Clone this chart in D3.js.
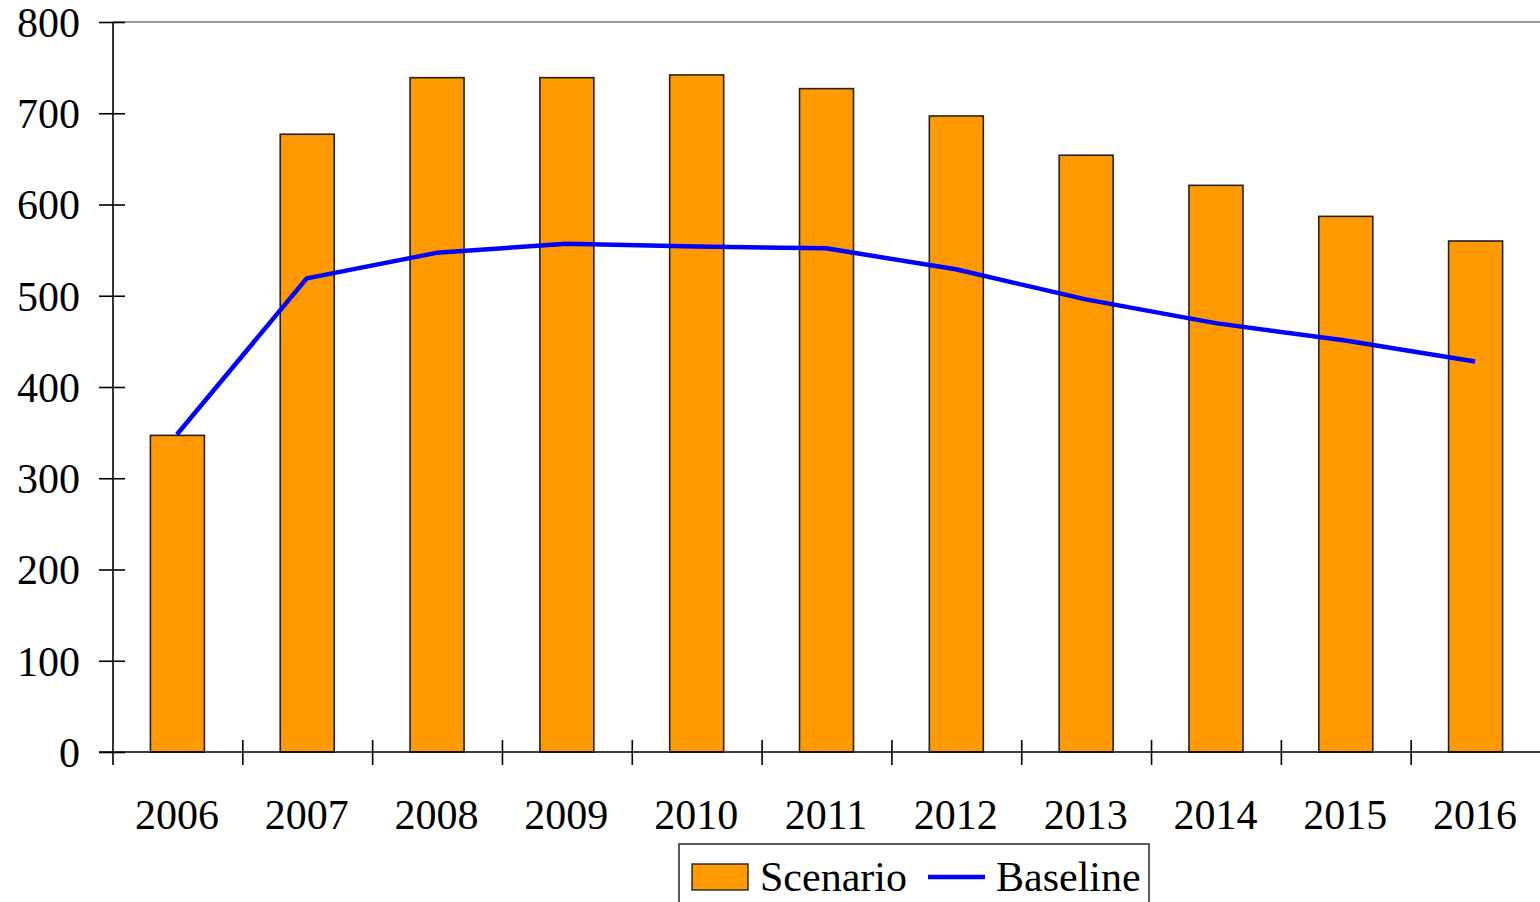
<!DOCTYPE html>
<html>
<head>
<meta charset="utf-8">
<script src="https://cdn.jsdelivr.net/npm/d3@7"></script>
<style>
  html, body { margin: 0; padding: 0; background: #fff; }
  svg { display: block; }
  text { font-family: "Liberation Serif", "Times New Roman", serif; fill: #000; }
</style>
</head>
<body>
<svg id="chart" width="1540" height="902"></svg>
<script>
// Annual values, 2006–2016
const years = ["2006","2007","2008","2009","2010","2011","2012","2013","2014","2015","2016"];
const scenario = [347, 677, 739, 739, 742, 727, 697, 654, 621, 587, 560];
const baseline = [348, 519, 547, 557, 554, 552, 529, 496, 470, 451, 428];
const yTicks = [0, 100, 200, 300, 400, 500, 600, 700, 800];
const seriesNames = ["Scenario", "Baseline"];

const svg = d3.select("#chart");
const plotLeft = 113, plotRight = 1541, plotTop = 22, plotBottom = 752;

const x = d3.scaleBand().domain(years).range([plotLeft, plotRight]).paddingInner(0).paddingOuter(0);
const y = d3.scaleLinear().domain([0, 800]).range([plotBottom, plotTop]);

const barW = 54;

// plot frame (top edge)
svg.append("line")
  .attr("x1", plotLeft).attr("x2", plotRight)
  .attr("y1", plotTop).attr("y2", plotTop)
  .attr("stroke", "#999").attr("stroke-width", 2);

// bars
svg.append("g").selectAll("rect")
  .data(years)
  .join("rect")
  .attr("x", (d) => x(d) + x.bandwidth() / 2 - barW / 2 - 0.5)
  .attr("y", (d, i) => y(scenario[i]))
  .attr("width", barW)
  .attr("height", (d, i) => y(0) - y(scenario[i]))
  .attr("fill", "#ff9900")
  .attr("stroke", "#222")
  .attr("stroke-width", 1.6);

// baseline line
const line = d3.line()
  .x((d, i) => x(years[i]) + x.bandwidth() / 2 - 1)
  .y((d) => y(d));
svg.append("path")
  .datum(baseline)
  .attr("d", line)
  .attr("fill", "none")
  .attr("stroke", "#0000ff")
  .attr("stroke-width", 4.5)
  .attr("stroke-linejoin", "round");

// y axis
const yAxis = d3.axisLeft(y).tickValues(yTicks).tickSize(0).tickPadding(0).tickFormat(d3.format("d"));
const gy = svg.append("g").attr("transform", `translate(${plotLeft},0)`).call(yAxis);
gy.select(".domain").remove();
gy.selectAll(".tick text")
  .attr("x", -33)
  .attr("dy", "0.34em")
  .style("font-size", "42px")
  .style("font-family", "'Liberation Serif', serif")
  .style("fill", "#000");
gy.selectAll(".tick").append("line")
  .attr("x1", -14).attr("x2", 12)
  .attr("stroke", "#000").attr("stroke-width", 1.6);
svg.append("line")
  .attr("x1", plotLeft).attr("x2", plotLeft)
  .attr("y1", plotTop).attr("y2", 765)
  .attr("stroke", "#000").attr("stroke-width", 1.6);

// x axis
svg.append("line")
  .attr("x1", plotLeft - 14).attr("x2", plotRight)
  .attr("y1", plotBottom).attr("y2", plotBottom)
  .attr("stroke", "#000").attr("stroke-width", 1.6);
const boundaries = years.map((d) => x(d)).concat([plotRight]);
svg.append("g").selectAll("line")
  .data(boundaries.slice(1))
  .join("line")
  .attr("x1", (d) => d).attr("x2", (d) => d)
  .attr("y1", 740).attr("y2", 765)
  .attr("stroke", "#000").attr("stroke-width", 1.6);
svg.append("g").selectAll("text")
  .data(years)
  .join("text")
  .attr("x", (d) => x(d) + x.bandwidth() / 2 - 1)
  .attr("y", 829)
  .attr("text-anchor", "middle")
  .style("font-size", "42px")
  .text((d) => d);

// legend
const lg = svg.append("g");
lg.append("rect")
  .attr("x", 679).attr("y", 844)
  .attr("width", 470).attr("height", 70)
  .attr("fill", "#fff").attr("stroke", "#333").attr("stroke-width", 1.6);
lg.append("rect")
  .attr("x", 692).attr("y", 864).attr("width", 56).attr("height", 26)
  .attr("fill", "#ff9900").attr("stroke", "#222").attr("stroke-width", 1.4);
lg.append("text")
  .attr("x", 760).attr("y", 891)
  .style("font-size", "42px")
  .text(seriesNames[0]);
lg.append("line")
  .attr("x1", 928).attr("x2", 985)
  .attr("y1", 877).attr("y2", 877)
  .attr("stroke", "#0000ff").attr("stroke-width", 4.5);
lg.append("text")
  .attr("x", 996).attr("y", 891)
  .style("font-size", "42px")
  .text(seriesNames[1]);
</script>
</body>
</html>
